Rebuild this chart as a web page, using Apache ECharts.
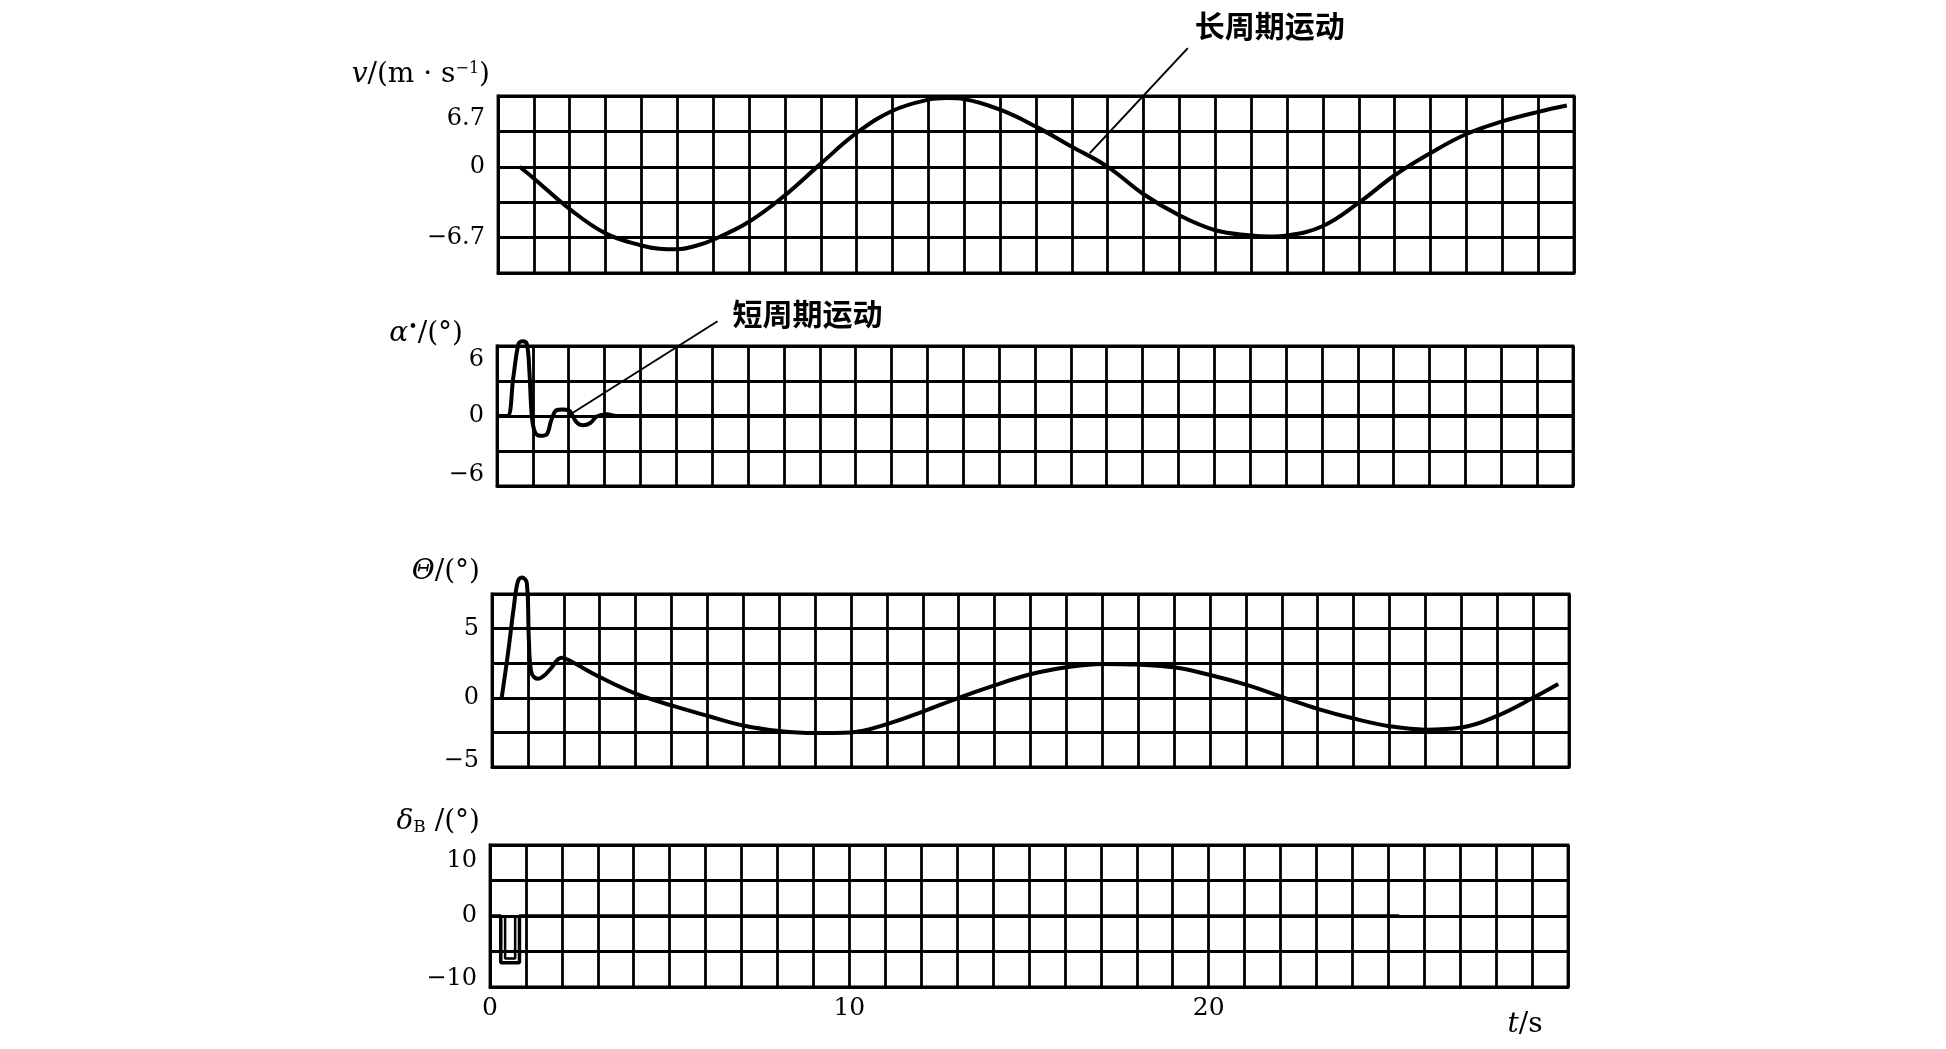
<!DOCTYPE html>
<html><head><meta charset="utf-8">
<script src="https://cdn.jsdelivr.net/npm/echarts@6/dist/echarts.min.js"></script>
<style>html,body{margin:0;padding:0;background:#fff}#c{width:1946px;height:1049px}</style>
</head><body><div id="c"></div>
<script>
// ---- data ----
const vTime   = [0.6, 1, 2, 3, 4, 4.5, 5, 5.5, 6, 7, 8, 9, 10, 11, 12, 12.5, 13, 14, 15, 16, 17, 18, 19, 20, 21, 21.5, 22, 23, 24, 25, 26, 27, 28, 29, 29.8];
const vValues = [0, -1.1, -4.0, -6.3, -7.45, -7.75, -7.8, -7.5, -6.9, -5.2, -2.7, 0.3, 3.2, 5.3, 6.35, 6.5, 6.4, 5.4, 3.8, 1.9, 0, -2.6, -4.6, -6.0, -6.5, -6.6, -6.5, -5.6, -3.4, -0.8, 1.3, 3.1, 4.3, 5.2, 5.8];

const alphaTime   = [0, 0.29, 0.45, 0.6, 0.71, 0.83, 0.9, 0.97, 1.06, 1.2, 1.38, 1.52, 1.66, 1.82, 1.99, 2.22, 2.4, 2.6, 2.78, 3.06, 3.33, 4, 8, 15, 22, 30];
const alphaValues = [0, 0, 3.2, 6.2, 6.4, 6.2, 4.0, 0, -1.4, -1.7, -1.6, -0.3, 0.5, 0.55, 0.5, -0.55, -0.8, -0.6, -0.05, 0.15, 0, 0, 0, 0, 0, 0];

const thetaTime   = [0.27, 0.45, 0.6, 0.72, 0.83, 0.97, 1.03, 1.1, 1.29, 1.45, 1.62, 1.94, 2.22, 3, 4, 5, 6, 7, 8, 9, 10, 11, 12, 13, 14, 15, 16, 17, 18, 19, 20, 21, 22, 23, 24, 25, 26, 27, 28, 29, 29.7];
const thetaValues = [0, 3.3, 6.4, 8.4, 8.7, 8.3, 4.0, 1.8, 1.37, 1.6, 2.05, 2.9, 2.6, 1.5, 0.3, -0.55, -1.3, -2.0, -2.4, -2.55, -2.5, -1.9, -1.0, 0, 0.9, 1.7, 2.2, 2.45, 2.4, 2.2, 1.65, 0.95, 0.07, -0.8, -1.5, -2.05, -2.3, -2.15, -1.3, 0, 1.0];

const deltaTime   = [0, 0.3, 0.3, 0.82, 0.82, 25.3];
const deltaValues = [0, 0, -6.6, -6.6, 0, 0];
const deltaInnerTime   = [0.42, 0.42, 0.7, 0.7];
const deltaInnerValues = [0, -6.0, -6.0, 0];

// axis ticks / labels
const tMin = 0, tMax = 30, tStep = 1, tLabelStep = 10;
const vAxis     = {min: -10.05, max: 6.7, interval: 3.35, labels: [6.7, 0, -6.7]};
const alphaAxis = {min: -6, max: 6, interval: 3, labels: [6, 0, -6]};
const thetaAxis = {min: -5, max: 7.5, interval: 2.5, labels: [5, 0, -5]};
const deltaAxis = {min: -10, max: 10, interval: 5, labels: [10, 0, -10]};

const notes = [
  {text: '长周期运动', grid: 0, at: [16.5, 1.3]},
  {text: '短周期运动', grid: 1, at: [2.05, 0.15]}
];

// ---- styling ----
const SERIF = 'DejaVu Serif';
const BLK = '#000';
const GW = 2.8;
const LBL = 24;
const zip = (a, b) => a.map((x, i) => [x, b[i]]);
const fmtNum = n => (n < 0 ? '\u2212' + String(-n) : String(n));

const grids = [
  {left: 498, top: 96,  width: 1076, height: 177},
  {left: 497, top: 346, width: 1076, height: 140},
  {left: 492, top: 594, width: 1077, height: 173},
  {left: 490, top: 845, width: 1078, height: 142}
].map(g => Object.assign(g, {show: true, borderColor: BLK, borderWidth: GW, containLabel: false}));

// label shifts (top padding pushes down, bottom padding pushes up)
const shifts = [
  {top: 46, bottom: 0},
  {top: 28, bottom: 22},
  {top: 0, bottom: 12},
  {top: 32, bottom: 16}
];
const axes = [vAxis, alphaAxis, thetaAxis, deltaAxis];

const yAxes = axes.map((ax, gi) => {
  const sh = shifts[gi];
  return {
    type: 'value', gridIndex: gi, min: ax.min, max: ax.max, interval: ax.interval,
    axisLine: {show: true, lineStyle: {color: BLK, width: GW}},
    axisTick: {show: false},
    splitLine: {show: true, lineStyle: {color: BLK, width: GW}},
    axisLabel: {
      margin: 13, color: BLK, fontFamily: SERIF, fontSize: LBL,
      formatter: function (val) {
        const r = Math.round(val * 100) / 100;
        const idx = ax.labels.indexOf(r);
        if (idx < 0) return '';
        if (idx === 0) return '{up|' + fmtNum(r) + '}';
        if (idx === ax.labels.length - 1) return '{dn|' + fmtNum(r) + '}';
        return '{n|' + fmtNum(r) + '}';
      },
      rich: {
        n:  {fontFamily: SERIF, fontSize: LBL, color: BLK},
        up: {fontFamily: SERIF, fontSize: LBL, color: BLK, padding: [sh.top, 0, 0, 0]},
        dn: {fontFamily: SERIF, fontSize: LBL, color: BLK, padding: [0, 0, sh.bottom, 0]}
      }
    }
  };
});

// axis titles
const titleRich = {
  i:   {fontFamily: SERIF, fontSize: 28, fontStyle: 'italic', color: BLK},
  r:   {fontFamily: SERIF, fontSize: 28, color: BLK},
  sup: {fontFamily: SERIF, fontSize: 16, color: BLK, verticalAlign: 'top', lineHeight: 18},
  sub: {fontFamily: SERIF, fontSize: 17, color: BLK, verticalAlign: 'bottom', lineHeight: 15}
};
const titles = [
  {name: '{i|v}{r|/(m · s}{sup|\u22121}{r|)}', gap: 21, pr: 8},
  {name: '{i|\u03b1}{sup|\u2022}{r|/(°)}', gap: 6, pr: 34},
  {name: '{i|\u0398}{r|/(°)}', gap: 22, pr: 12},
  {name: '{i|\u03b4}{sub|B}{r| /(°)}', gap: 23, pr: 10}
];
titles.forEach((t, i) => {
  Object.assign(yAxes[i], {
    name: t.name, nameLocation: 'end', nameGap: t.gap,
    nameTextStyle: {align: 'right', verticalAlign: 'middle', padding: [0, t.pr, 0, 0], rich: titleRich}
  });
});

const xAxes = grids.map((g, gi) => ({
  type: 'value', gridIndex: gi, min: tMin, max: tMax, interval: tStep,
  axisLine: {show: true, onZero: false, lineStyle: {color: BLK, width: GW}},
  axisTick: {show: false},
  splitLine: {show: true, lineStyle: {color: BLK, width: GW}},
  axisLabel: gi === 3 ? {
    show: true, margin: 9, color: BLK, fontFamily: SERIF, fontSize: 25,
    formatter: v => (Math.round(v) % tLabelStep === 0 && v < tMax ? String(Math.round(v)) : '')
  } : {show: false},
  name: gi === 3 ? '{i|t}{r|/s}' : '',
  nameLocation: 'end', nameGap: -43,
  nameTextStyle: {align: 'center', verticalAlign: 'middle', padding: [76, 0, 0, 0],
    rich: {i: {fontFamily: SERIF, fontSize: 28, fontStyle: 'italic', color: BLK},
           r: {fontFamily: SERIF, fontSize: 28, color: BLK}}}
}));

const lineSeries = (gi, t, v, w, sm) => ({
  type: 'line', xAxisIndex: gi, yAxisIndex: gi, data: zip(t, v),
  showSymbol: false, smooth: sm, clip: false, animation: false,
  lineStyle: {color: BLK, width: w}, z: 5
});

const series = [
  lineSeries(0, vTime, vValues, 4, 0.4),
  lineSeries(1, alphaTime, alphaValues, 4, 0.35),
  lineSeries(2, thetaTime, thetaValues, 4, 0.4),
  lineSeries(3, deltaTime, deltaValues, 3.5, false),
  lineSeries(3, deltaInnerTime, deltaInnerValues, 2.5, false)
];

const chart = echarts.init(document.getElementById('c'), null, {renderer: 'canvas'});
chart.setOption({
  backgroundColor: '#fff',
  animation: false,
  grid: grids, xAxis: xAxes, yAxis: yAxes, series: series
});

// annotations: leader line from a point on the curve + label
const noteOffsets = [
  {dx: 98, dy: -105, tx: 7, ty: -22},
  {dx: 147, dy: -93, tx: 15, ty: -8}
];
const graphics = [];
notes.forEach((n, i) => {
  const p = chart.convertToPixel({gridIndex: n.grid}, n.at);
  const o = noteOffsets[i];
  const e = [p[0] + o.dx, p[1] + o.dy];
  graphics.push({type: 'line', shape: {x1: p[0], y1: p[1], x2: e[0], y2: e[1]},
    style: {stroke: BLK, lineWidth: 2}, z: 10});
  graphics.push({type: 'text', x: e[0] + o.tx, y: e[1] + o.ty,
    style: {text: n.text, fill: BLK, font: 'bold 30px "Noto Sans CJK SC"',
      textAlign: 'left', textVerticalAlign: 'middle'}, z: 10});
});
chart.setOption({graphic: graphics});
</script>
</body></html>
